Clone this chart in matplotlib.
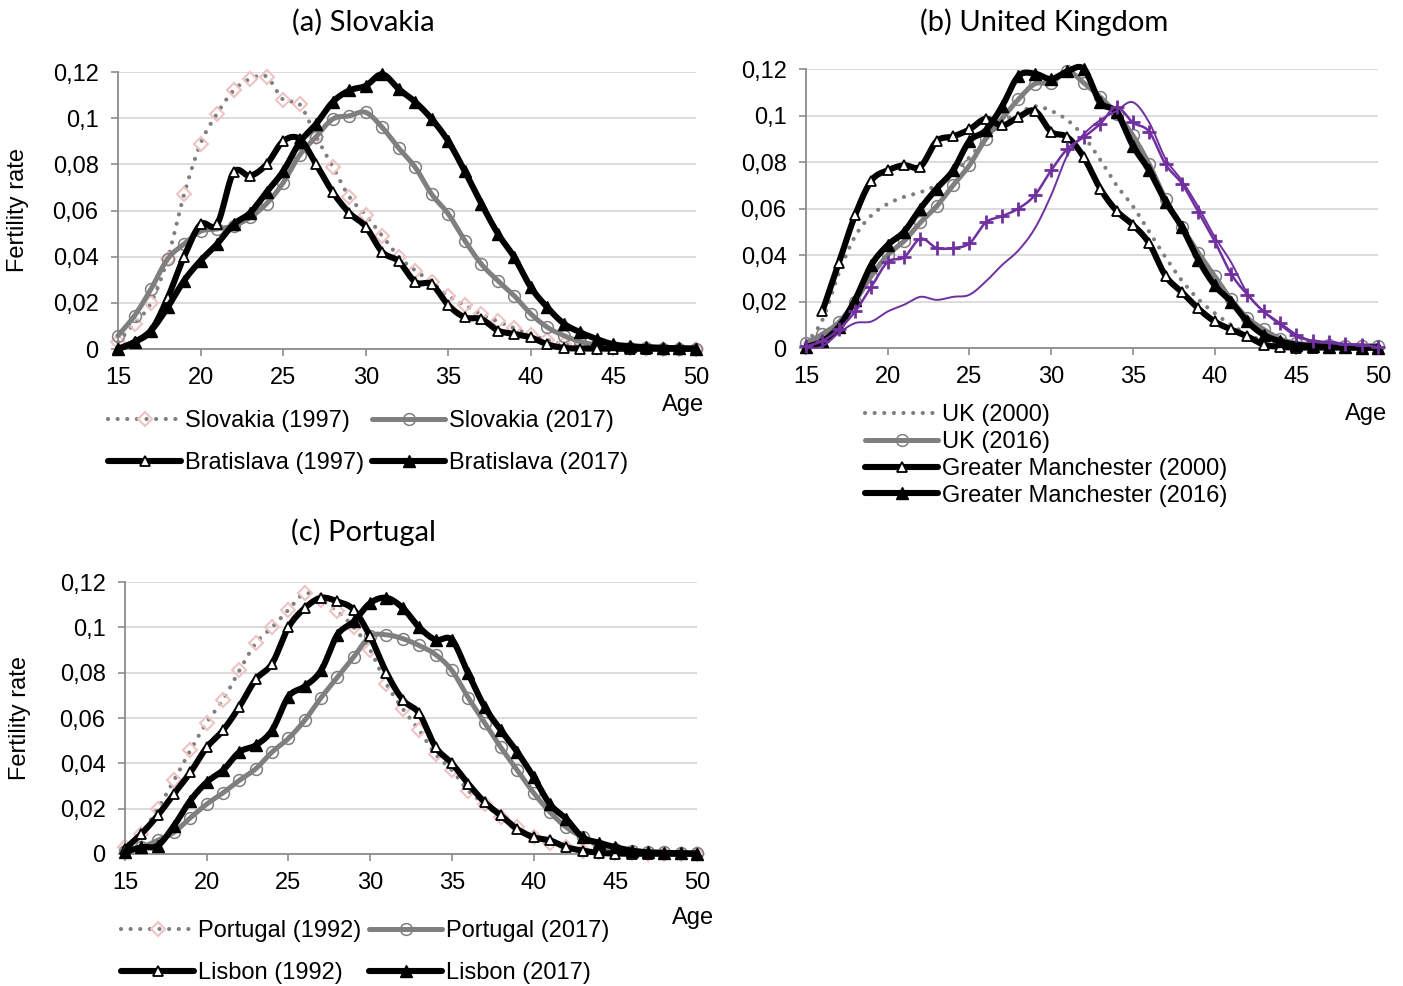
import numpy as np
import matplotlib
matplotlib.use("Agg")
import matplotlib.pyplot as plt
from matplotlib.font_manager import FontProperties
from matplotlib.lines import Line2D
from matplotlib.ticker import FixedLocator, FuncFormatter

plt.rcParams["font.family"] = ["Liberation Sans", "DejaVu Sans"]

W, H = 1403, 986

ages = list(range(15, 51))

# ---------------- (a) Slovakia ----------------
slovakia_1997 = [0.003, 0.011, 0.020, 0.039, 0.067, 0.089, 0.102, 0.112, 0.117, 0.118,
                 0.108, 0.106, 0.092, 0.079, 0.066, 0.058, 0.049, 0.040, 0.034, 0.029,
                 0.023, 0.019, 0.015, 0.012, 0.009, 0.006, 0.004, 0.002, 0.001, 0.0006,
                 0.0004, 0.0003, 0.0002, 0.0001, 0.0001, 0.0001]
slovakia_2017 = [0.0058, 0.0144, 0.026, 0.039, 0.0455, 0.051, 0.052, 0.0534, 0.057, 0.063,
                 0.072, 0.084, 0.092, 0.0996, 0.101, 0.1025, 0.096, 0.087, 0.0787, 0.067,
                 0.0585, 0.047, 0.0368, 0.0296, 0.023, 0.0152, 0.0094, 0.0058, 0.0032, 0.0017,
                 0.0009, 0.0005, 0.0003, 0.0002, 0.0001, 0.0001]
bratislava_1997 = [0.0, 0.003, 0.008, 0.022, 0.040, 0.054, 0.054, 0.0765, 0.075, 0.080,
                   0.090, 0.091, 0.080, 0.068, 0.059, 0.053, 0.042, 0.038, 0.029, 0.028,
                   0.019, 0.0137, 0.013, 0.008, 0.0065, 0.005, 0.002, 0.0005, 0.0002, 0.0002,
                   0.0001, 0.0001, 0.0001, 0.0001, 0.0001, 0.0001]
bratislava_2017 = [0.0, 0.003, 0.008, 0.018, 0.0296, 0.0383, 0.0455, 0.054, 0.059, 0.068,
                   0.077, 0.0895, 0.0975, 0.107, 0.112, 0.114, 0.119, 0.1126, 0.107, 0.0996,
                   0.090, 0.077, 0.063, 0.050, 0.0397, 0.0267, 0.018, 0.011, 0.0072, 0.0043,
                   0.002, 0.0012, 0.0008, 0.0005, 0.0003, 0.0002]

# ---------------- (b) United Kingdom ----------------
uk_2000 = [0.002, 0.012, 0.032, 0.048, 0.057, 0.062, 0.065, 0.067, 0.070, 0.075,
           0.082, 0.090, 0.097, 0.101, 0.104, 0.102, 0.098, 0.091, 0.081, 0.070,
           0.061, 0.050, 0.039, 0.029, 0.021, 0.015, 0.010, 0.006, 0.003, 0.0015,
           0.0008, 0.0005, 0.0003, 0.0003, 0.0002, 0.0002]
uk_2016 = [0.002, 0.006, 0.011, 0.020, 0.031, 0.040, 0.046, 0.054, 0.061, 0.070,
           0.0786, 0.090, 0.0986, 0.107, 0.1136, 0.114, 0.119, 0.114, 0.108, 0.1007,
           0.0914, 0.079, 0.064, 0.052, 0.041, 0.031, 0.021, 0.013, 0.008, 0.004,
           0.002, 0.0015, 0.0012, 0.001, 0.001, 0.001]
manchester_2000 = [np.nan, 0.0157, 0.0364, 0.057, 0.072, 0.0764, 0.0786, 0.078, 0.089, 0.091,
                   0.094, 0.0986, 0.0957, 0.0993, 0.102, 0.093, 0.0907, 0.082, 0.0686, 0.059,
                   0.053, 0.045, 0.031, 0.024, 0.017, 0.0114, 0.008, 0.005, 0.0015, 0.0005,
                   0.0002, 0.0002, 0.0002, 0.0002, 0.0002, 0.0002]
manchester_2016 = [0.0003, 0.003, 0.009, 0.0207, 0.0357, 0.0443, 0.050, 0.060, 0.0686, 0.0764,
                   0.089, 0.0936, 0.104, 0.117, 0.118, 0.1157, 0.119, 0.120, 0.1057, 0.1014,
                   0.087, 0.0764, 0.063, 0.052, 0.038, 0.027, 0.020, 0.0114, 0.0057, 0.0029,
                   0.0014, 0.0008, 0.0005, 0.0003, 0.0002, 0.0001]
purple_marked = [0.0007, 0.003, 0.008, 0.0157, 0.0264, 0.037, 0.039, 0.047, 0.043, 0.043,
                 0.045, 0.054, 0.0567, 0.060, 0.0657, 0.0764, 0.0857, 0.0907, 0.0964, 0.1036,
                 0.097, 0.093, 0.079, 0.0707, 0.0586, 0.046, 0.032, 0.023, 0.0157, 0.0107,
                 0.0057, 0.003, 0.0026, 0.0017, 0.0014, 0.0003]
purple_thin = [0.0, 0.0007, 0.0064, 0.0107, 0.0114, 0.0157, 0.0186, 0.022, 0.0207, 0.022,
               0.0229, 0.0286, 0.0357, 0.042, 0.0514, 0.0657, 0.083, 0.092, 0.098, 0.102,
               0.1057, 0.097, 0.0814, 0.072, 0.0607, 0.0479, 0.037, 0.0236, 0.0157, 0.010,
               0.005, 0.003, 0.002, 0.0015, 0.001, 0.0005]

# ---------------- (c) Portugal ----------------
portugal_1992 = [0.003, 0.009, 0.020, 0.0325, 0.0457, 0.058, 0.068, 0.081, 0.093, 0.100,
                 0.1077, 0.115, 0.112, 0.107, 0.100, 0.090, 0.075, 0.064, 0.0546, 0.044,
                 0.037, 0.028, 0.022, 0.0162, 0.0118, 0.0074, 0.005, 0.003, 0.0015, 0.0008,
                 0.0004, 0.0003, 0.0002, 0.0001, 0.0001, 0.0001]
portugal_2017 = [0.0015, 0.003, 0.006, 0.0096, 0.016, 0.022, 0.027, 0.0325, 0.0376, 0.045,
                 0.051, 0.059, 0.069, 0.078, 0.087, 0.096, 0.0967, 0.095, 0.092, 0.088,
                 0.081, 0.069, 0.058, 0.047, 0.037, 0.027, 0.0185, 0.0118, 0.0074, 0.0037,
                 0.0022, 0.0015, 0.001, 0.0007, 0.0005, 0.0003]
lisbon_1992 = [0.0022, 0.0089, 0.017, 0.0266, 0.036, 0.047, 0.0546, 0.065, 0.077, 0.084,
               0.100, 0.1085, 0.113, 0.1114, 0.1077, 0.096, 0.080, 0.068, 0.062, 0.0472,
               0.040, 0.031, 0.0229, 0.017, 0.011, 0.0074, 0.006, 0.003, 0.0015, 0.0005,
               0.0002, 0.0001, 0.0001, 0.0001, 0.0001, 0.0001]
lisbon_2017 = [0.0007, 0.003, 0.0037, 0.0125, 0.0236, 0.0317, 0.037, 0.045, 0.048, 0.0546,
               0.0694, 0.074, 0.081, 0.0967, 0.1026, 0.1107, 0.113, 0.1085, 0.100, 0.0945,
               0.0945, 0.0797, 0.065, 0.0546, 0.045, 0.034, 0.022, 0.0155, 0.0074, 0.005,
               0.003, 0.0015, 0.0007, 0.0005, 0.0003, 0.0002]

x_ticks = [15, 20, 25, 30, 35, 40, 45, 50]
y_ticks = [0, 0.02, 0.04, 0.06, 0.08, 0.1, 0.12]

titles = ["(a) Slovakia", "(b) United Kingdom", "(c) Portugal"]

# ---------------- styles ----------------
GRAY = "#7f7f7f"
PINK = "#efc3c3"
PURPLE = "#7030a0"

LINE = {
    "dotted": dict(color=GRAY, lw=3.0, linestyle=(0, (0.01, 2.3)), dash_capstyle="round"),
    "dotted_plain": dict(color=GRAY, lw=3.0, linestyle=(0, (0.01, 2.3)), dash_capstyle="round"),
    "gray": dict(color=GRAY, lw=3.6, solid_capstyle="round", solid_joinstyle="round"),
    "open_tri": dict(color="black", lw=4.4, solid_capstyle="round", solid_joinstyle="round"),
    "fill_tri": dict(color="black", lw=4.4, solid_capstyle="round", solid_joinstyle="round"),
    "purple_plus": dict(color=PURPLE, lw=1.8),
    "purple_thin": dict(color=PURPLE, lw=1.4),
}
MARK = {
    "dotted": dict(marker="D", ms=7.5, mfc="none", mec=PINK, mew=1.5),
    "gray": dict(marker="o", ms=8.5, mfc="none", mec=GRAY, mew=1.1),
    "open_tri": dict(marker="^", ms=7.5, mfc="white", mec="black", mew=1.3),
    "fill_tri": dict(marker="^", ms=8.5, mfc="black", mec="black", mew=1.0),
    "purple_plus": dict(marker="+", ms=10, mew=2.0, mec=PURPLE),
}

fig = plt.figure(figsize=(W / 100, H / 100), dpi=100)


def px_axes(left, top, right, bottom):
    return fig.add_axes([left / W, 1 - bottom / H, (right - left) / W, (bottom - top) / H])


def fmt_y(v, pos):
    if abs(v) < 1e-12:
        return "0"
    s = ("%.2f" % v).rstrip("0").rstrip(".")
    return s.replace(".", ",")


def style_axes(ax):
    ax.set_xlim(15, 50)
    ax.set_ylim(0, 0.12)
    ax.xaxis.set_major_locator(FixedLocator(x_ticks))
    ax.yaxis.set_major_locator(FixedLocator(y_ticks))
    ax.yaxis.set_major_formatter(FuncFormatter(fmt_y))
    ax.grid(axis="y", color="#d9d9d9", lw=1.3, zorder=0)
    ax.set_axisbelow(True)
    for s in ["top", "right"]:
        ax.spines[s].set_visible(False)
    for s in ["left", "bottom"]:
        ax.spines[s].set_color("#8c8c8c")
        ax.spines[s].set_linewidth(1.3)
    ax.tick_params(axis="both", direction="out", length=5, width=1.2, color="#8c8c8c",
                   labelsize=17, labelfontfamily="Liberation Sans")
    ax.tick_params(axis="y", pad=9)
    ax.tick_params(axis="x", pad=8)


def smooth(x, y, n=12):
    """Excel-like smoothed polyline through the data (Bezier with Catmull-Rom tangents)."""
    x = np.asarray(x, float)
    y = np.asarray(y, float)
    ok = ~np.isnan(y)
    x, y = x[ok], y[ok]
    px, py = [], []
    m = len(x)
    for i in range(m - 1):
        p0 = (x[max(i - 1, 0)], y[max(i - 1, 0)])
        p1 = (x[i], y[i])
        p2 = (x[i + 1], y[i + 1])
        p3 = (x[min(i + 2, m - 1)], y[min(i + 2, m - 1)])
        c1 = (p1[0] + (p2[0] - p0[0]) / 6, p1[1] + (p2[1] - p0[1]) / 6)
        c2 = (p2[0] - (p3[0] - p1[0]) / 6, p2[1] - (p3[1] - p1[1]) / 6)
        t = np.linspace(0, 1, n, endpoint=(i == m - 2))
        a, b, c, d = (1 - t) ** 3, 3 * (1 - t) ** 2 * t, 3 * (1 - t) * t ** 2, t ** 3
        px.extend(a * p1[0] + b * c1[0] + c * c2[0] + d * p2[0])
        py.extend(a * p1[1] + b * c1[1] + c * c2[1] + d * p2[1])
    return np.array(px), np.maximum(np.array(py), 0)


def draw(ax, y, key, label=None, z=2):
    sx, sy = smooth(ages, y)
    ax.plot(sx, sy, clip_on=False, zorder=z, **LINE[key])
    if key in MARK:
        ax.plot(ages, y, linestyle="none", clip_on=False, zorder=z + 0.1, **MARK[key])
    return Line2D([], [], label=label, **LINE[key], **MARK.get(key, {}))


def legend(handles, ncol, x, y, labelspacing, colsp=0.35):
    fig.legend(handles, [h.get_label() for h in handles], ncol=ncol, loc="center left",
               bbox_to_anchor=(x / W, 1 - y / H), frameon=False, borderpad=0,
               borderaxespad=0, handlelength=3.1, handletextpad=0.15,
               columnspacing=colsp, labelspacing=labelspacing, numpoints=1,
               prop=FontProperties(family="Liberation Sans", size=17))


title_font = dict(family="Lato", size=21)
lab_font = dict(family="Liberation Sans", size=17)

# ---- panel (a)
ax_a = px_axes(118, 72, 696, 349)
style_axes(ax_a)
h1 = draw(ax_a, slovakia_1997, "dotted", "Slovakia (1997)", 2)
h2 = draw(ax_a, slovakia_2017, "gray", "Slovakia (2017)", 3)
h3 = draw(ax_a, bratislava_1997, "open_tri", "Bratislava (1997)", 4)
h4 = draw(ax_a, bratislava_2017, "fill_tri", "Bratislava (2017)", 5)
legend([h1, h3, h2, h4], 2, 108, 442, 0.85)
fig.text(363 / W, 1 - 22 / H, titles[0], ha="center", va="center", **title_font)
fig.text(683 / W, 1 - 405 / H, "Age", ha="center", va="center", **lab_font)
fig.text(18 / W, 1 - 210 / H, "Fertility rate", ha="center", va="center", rotation=90, **lab_font)

# ---- panel (b)
ax_b = px_axes(806, 69, 1378, 348)
style_axes(ax_b)
g1 = draw(ax_b, uk_2000, "dotted_plain", "UK (2000)", 2)
g2 = draw(ax_b, uk_2016, "gray", "UK (2016)", 3)
g3 = draw(ax_b, manchester_2000, "open_tri", "Greater Manchester (2000)", 4)
g4 = draw(ax_b, manchester_2016, "fill_tri", "Greater Manchester (2016)", 5)
draw(ax_b, purple_thin, "purple_thin", None, 6)
draw(ax_b, purple_marked, "purple_plus", None, 7)
legend([g1, g2, g3, g4], 1, 865, 455.5, 0.2)
fig.text(1044 / W, 1 - 22 / H, titles[1], ha="center", va="center", **title_font)
fig.text(1366 / W, 1 - 414 / H, "Age", ha="center", va="center", **lab_font)

# ---- panel (c)
ax_c = px_axes(125, 582, 697, 854)
style_axes(ax_c)
k1 = draw(ax_c, portugal_1992, "dotted", "Portugal (1992)", 2)
k2 = draw(ax_c, portugal_2017, "gray", "Portugal (2017)", 3)
k3 = draw(ax_c, lisbon_1992, "open_tri", "Lisbon (1992)", 4)
k4 = draw(ax_c, lisbon_2017, "fill_tri", "Lisbon (2017)", 5)
legend([k1, k3, k2, k4], 2, 121, 952, 0.85)
fig.text(363 / W, 1 - 532 / H, titles[2], ha="center", va="center", **title_font)
fig.text(693 / W, 1 - 918 / H, "Age", ha="center", va="center", **lab_font)
fig.text(20 / W, 1 - 718 / H, "Fertility rate", ha="center", va="center", rotation=90, **lab_font)

fig.savefig("out.png", dpi=100)
